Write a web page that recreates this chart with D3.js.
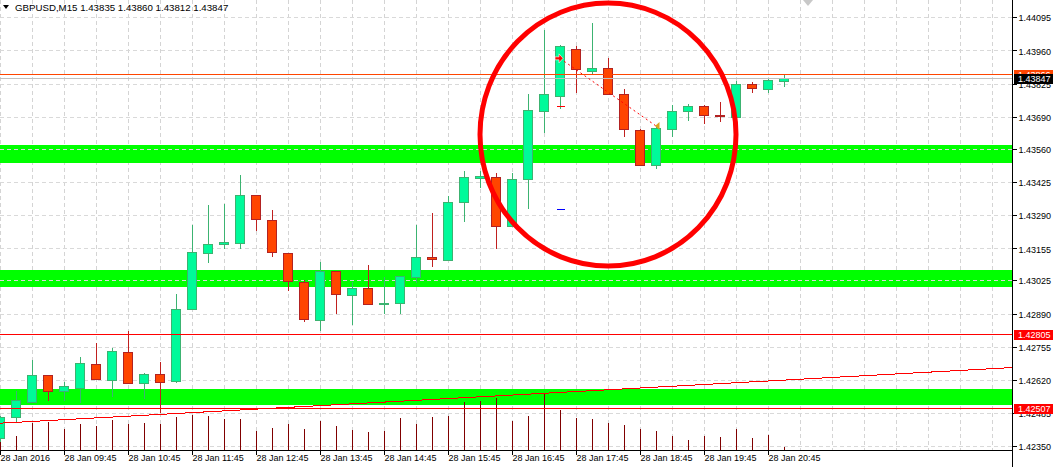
<!DOCTYPE html>
<html><head><meta charset="utf-8">
<script src="https://cdn.jsdelivr.net/npm/d3@7"></script>
<style>
html,body{margin:0;padding:0;background:#fff;overflow:hidden}
svg{display:block}
text{font-family:"Liberation Sans",Arial,sans-serif;font-size:9px}
</style></head><body>
<svg id="c" width="1056" height="467"></svg>
<script>
// ---- data ----
const symbolTitle = "GBPUSD,M15  1.43835 1.43860 1.43812 1.43847";
const times = ["08:45","09:00","09:15","09:30","09:45","10:00","10:15","10:30","10:45","11:00",
"11:15","11:30","11:45","12:00","12:15","12:30","12:45","13:00","13:15","13:30",
"13:45","14:00","14:15","14:30","14:45","15:00","15:15","15:30","15:45","16:00",
"16:15","16:30","16:45","17:00","17:15","17:30","17:45","18:00","18:15","18:30",
"18:45","19:00","19:15","19:30","19:45","20:00","20:15","20:30","20:45","21:00"];
const open = [1.42383,1.42468,1.42531,1.42639,1.42574,1.42588,1.42684,1.42621,1.42732,1.42606,
1.42644,1.42614,1.42907,1.43135,1.43172,1.43176,1.43371,1.43269,1.43135,1.43017,
1.42862,1.43062,1.42964,1.42993,1.42928,1.42932,1.43037,1.43119,1.43107,1.43343,
1.43440,1.43444,1.43245,1.43436,1.43713,1.43776,1.43965,1.43875,1.43888,1.43782,
1.43635,1.43493,1.43639,1.43713,1.43733,1.43696,1.43688,1.43822,1.43802,1.43835];
const high = [1.42473,1.42575,1.42701,1.42640,1.42612,1.42713,1.42771,1.42751,1.42819,1.42649,
1.42693,1.42968,1.43249,1.43330,1.43336,1.43454,1.43372,1.43311,1.43136,1.43026,
1.43100,1.43063,1.43017,1.43086,1.43037,1.43043,1.43249,1.43299,1.43368,1.43470,
1.43470,1.43460,1.43460,1.43783,1.44043,1.43982,1.43978,1.44071,1.43928,1.43802,
1.43639,1.43648,1.43737,1.43741,1.43737,1.43749,1.43835,1.43831,1.43847,1.43860];
const low = [1.42367,1.42450,1.42527,1.42535,1.42533,1.42525,1.42620,1.42552,1.42604,1.42544,
1.42485,1.42606,1.42905,1.43095,1.43151,1.43151,1.43227,1.43121,1.42983,1.42857,
1.42820,1.42889,1.42843,1.42926,1.42889,1.42889,1.43015,1.43081,1.43102,1.43261,
1.43399,1.43151,1.43240,1.43314,1.43623,1.43721,1.43786,1.43859,1.43780,1.43609,
1.43489,1.43477,1.43607,1.43672,1.43660,1.43668,1.43686,1.43786,1.43786,1.43812];
const close = [1.42468,1.42537,1.42640,1.42574,1.42594,1.42688,1.42623,1.42736,1.42606,1.42643,
1.42613,1.42907,1.43139,1.43172,1.43180,1.43371,1.43273,1.43139,1.43021,1.42867,
1.43062,1.42968,1.42995,1.42928,1.42932,1.43042,1.43119,1.43111,1.43343,1.43444,
1.43448,1.43245,1.43436,1.43717,1.43782,1.43978,1.43884,1.43888,1.43782,1.43639,
1.43493,1.43643,1.43713,1.43733,1.43696,1.43692,1.43822,1.43806,1.43839,1.43847];
const volume = [180,168,324,336,252,312,288,360,312,324,
312,396,420,412,372,372,232,268,316,256,
352,292,244,220,232,388,312,396,408,576,
588,628,348,408,680,480,384,372,328,304,
256,232,172,124,172,160,256,148,184,40];
const priceTicks = [1.44095,1.43960,1.43825,1.43690,1.43560,1.43425,1.43290,1.43155,1.43025,1.42890,1.42755,1.42620,1.42485,1.42350];
const priceTickLabels = ["1.44095","1.43960","1.43825","1.43690","1.43560","1.43425","1.43290","1.43155","1.43025","1.42890","1.42755","1.42620","1.42485","1.42350"];
const timeTickIdx = [0,4,8,12,16,20,24,28,32,36,40,44,48];
const timeTickLabels = ["28 Jan 2016","28 Jan 09:45","28 Jan 10:45","28 Jan 11:45","28 Jan 12:45","28 Jan 13:45","28 Jan 14:45","28 Jan 15:45","28 Jan 16:45","28 Jan 17:45","28 Jan 18:45","28 Jan 19:45","28 Jan 20:45"];
const zoneTop = [1.43576,1.43067,1.42583];
const zoneBottom = [1.43504,1.42996,1.42518];
const hLinePrices = [1.43866,1.42805,1.42507];
const hLineLabels = ["1.43866","1.42805","1.42507"];
const hLineColors = ["#ff4500","#ff0000","#ff0000"];
const bidPrice = 1.43847, bidLabel = "1.43847";
const trendBars = [0,63.2], trendPrices = [1.42444,1.42670];
const ellipseBars = [30,46], ellipsePrices = [1.44153,1.43083];
const tradeBars = [35,41], tradePrices = [1.43928,1.43653];
const markBar = 35, stopPrice = 1.43735, pendingPrice = 1.43314;

// ---- layout ----
const W = 1056, H = 467, plotR = 1012, plotB = 450;
const svg = d3.select("#c");
const x = d3.scaleLinear().domain([0,49]).range([0,784]);
const y = d3.scaleLinear().domain([1.42350,1.44095]).range([446.3,17.3]);
const v = d3.scaleLinear().domain([0,600]).range([plotB,plotB-50]);
const px = i => Math.round(x(i)) + 0.5;

svg.append("rect").attr("width",W).attr("height",H).attr("fill","#fff");

// vertical grid
const vg = d3.range(0,64,2).filter(i => x(i) < plotR);
svg.append("g").selectAll("line").data(vg).join("line")
  .attr("x1",d=>px(d)).attr("x2",d=>px(d)).attr("y1",0).attr("y2",plotB)
  .attr("stroke","#d4d4d4").attr("stroke-dasharray","4,3").attr("shape-rendering","crispEdges");

// zones
svg.append("g").selectAll("rect").data(zoneTop).join("rect")
  .attr("x",0).attr("width",plotR)
  .attr("y",(d,i)=>y(d)).attr("height",(d,i)=>y(zoneBottom[i])-y(d))
  .attr("fill","#00ff00").attr("shape-rendering","crispEdges");

// horizontal grid
svg.append("g").selectAll("line").data(priceTicks).join("line")
  .attr("x1",0).attr("x2",plotR)
  .attr("y1",d=>Math.round(y(d))+0.5).attr("y2",d=>Math.round(y(d))+0.5)
  .attr("stroke","#d9d9d9").attr("stroke-dasharray","4,3").attr("shape-rendering","crispEdges");

// volumes
svg.append("g").selectAll("line").data(volume).join("line")
  .attr("x1",(d,i)=>px(i)).attr("x2",(d,i)=>px(i))
  .attr("y1",plotB).attr("y2",d=>v(d))
  .attr("stroke","#800000").attr("stroke-width",1).attr("shape-rendering","crispEdges");

// candles
const idx = d3.range(times.length);
const cg = svg.append("g").attr("shape-rendering","crispEdges");
cg.selectAll("line").data(idx).join("line")
  .attr("x1",i=>px(i)).attr("x2",i=>px(i))
  .attr("y1",i=>y(high[i])).attr("y2",i=>y(low[i]))
  .attr("stroke",i=>close[i]>=open[i]?"#3cb371":"#c0201f");
cg.selectAll("rect").data(idx).join("rect")
  .attr("x",i=>Math.round(x(i))-4.5).attr("width",9)
  .attr("y",i=>Math.round(y(Math.max(open[i],close[i])))+0.5)
  .attr("height",i=>Math.max(1,Math.round(y(Math.min(open[i],close[i])))-Math.round(y(Math.max(open[i],close[i])))))
  .attr("fill",i=>close[i]>=open[i]?"#00fa9a":"#ff4500")
  .attr("stroke",i=>close[i]>=open[i]?"#3cb371":"#b22222");

// horizontal lines
svg.append("g").selectAll("line").data(hLinePrices).join("line")
  .attr("x1",0).attr("x2",plotR)
  .attr("y1",d=>Math.round(y(d))+0.5).attr("y2",d=>Math.round(y(d))+0.5)
  .attr("stroke",(d,i)=>hLineColors[i]).attr("shape-rendering","crispEdges");
svg.append("line").attr("x1",0).attr("x2",plotR)
  .attr("y1",Math.round(y(bidPrice))+0.5).attr("y2",Math.round(y(bidPrice))+0.5)
  .attr("stroke","#c0c0c0").attr("shape-rendering","crispEdges");

// trend line (extended through plot)
const slope = (trendPrices[1]-trendPrices[0])/(trendBars[1]-trendBars[0]);
const tx0 = x.invert(0), tx1 = x.invert(plotR);
svg.append("line")
  .attr("x1",0).attr("y1",y(trendPrices[0]+slope*(tx0-trendBars[0])))
  .attr("x2",plotR).attr("y2",y(trendPrices[0]+slope*(tx1-trendBars[0])))
  .attr("stroke","#ff0000").attr("stroke-width",1).attr("shape-rendering","crispEdges");

// trade line & arrows
svg.append("line")
  .attr("x1",x(tradeBars[0])).attr("y1",y(tradePrices[0]))
  .attr("x2",x(tradeBars[1])).attr("y2",y(tradePrices[1]))
  .attr("stroke","#ff0000").attr("stroke-dasharray","2,3");
const ax = x(tradeBars[0]), ay = y(tradePrices[0]);
svg.append("path")
  .attr("d",`M${ax-5},${ay-1.5}L${ax-1},${ay-1.5}L${ax-1},${ay-4.5}L${ax+3},${ay}L${ax-1},${ay+4.5}L${ax-1},${ay+1.5}L${ax-5},${ay+1.5}Z`)
  .attr("fill","#ff0000").attr("stroke","#fff").attr("stroke-width",0.6);
const bx = x(tradeBars[1]), by = y(tradePrices[1]);
svg.append("path")
  .attr("d",`M${bx+3.5},${by-4}L${bx+3.5},${by+4}L${bx-1},${by}Z`)
  .attr("fill","#daa520");
svg.append("line").attr("x1",px(markBar)-4).attr("x2",px(markBar)+4)
  .attr("y1",Math.round(y(stopPrice))+0.5).attr("y2",Math.round(y(stopPrice))+0.5)
  .attr("stroke","#ff0000").attr("shape-rendering","crispEdges");
svg.append("line").attr("x1",px(markBar)-4).attr("x2",px(markBar)+4)
  .attr("y1",Math.round(y(pendingPrice))+0.5).attr("y2",Math.round(y(pendingPrice))+0.5)
  .attr("stroke","#0000ff").attr("shape-rendering","crispEdges");

// ellipse
svg.append("ellipse")
  .attr("cx",(x(ellipseBars[0])+x(ellipseBars[1]))/2)
  .attr("cy",(y(ellipsePrices[0])+y(ellipsePrices[1]))/2)
  .attr("rx",(x(ellipseBars[1])-x(ellipseBars[0]))/2)
  .attr("ry",(y(ellipsePrices[1])-y(ellipsePrices[0]))/2)
  .attr("fill","none").attr("stroke","#ff0000").attr("stroke-width",5);

// white out area right of / below plot
svg.append("rect").attr("x",plotR+1).attr("y",0).attr("width",W-plotR).attr("height",H).attr("fill","#fff");
svg.append("rect").attr("x",0).attr("y",plotB+1).attr("width",W).attr("height",H-plotB).attr("fill","#fff");

// axes
const ya = d3.axisRight(y).tickValues(priceTicks).tickFormat((d,i)=>priceTickLabels[i]).tickSize(4).tickPadding(2);
const yg = svg.append("g").attr("transform",`translate(${plotR+0.5},0)`).call(ya);
yg.select(".domain").remove();
yg.selectAll("text").attr("dy","0.4em").attr("fill","#000");
yg.selectAll("line").attr("shape-rendering","crispEdges").attr("stroke","#000");
yg.attr("font-family",null).attr("font-size",null);

const xa = d3.axisBottom(x).tickValues(timeTickIdx).tickFormat((d,i)=>timeTickLabels[i]).tickSize(4).tickPadding(0);
const xg = svg.append("g").attr("transform",`translate(0.5,${plotB+0.5})`).call(xa);
xg.select(".domain").remove();
xg.selectAll(".tick").attr("transform",d=>`translate(${Math.round(x(d))},0)`);
xg.selectAll("text").attr("text-anchor","start").attr("x",0).attr("fill","#000");
xg.selectAll("line").attr("shape-rendering","crispEdges").attr("stroke","#000");
xg.attr("font-family",null).attr("font-size",null);

svg.append("line").attr("x1",0).attr("x2",plotR+1).attr("y1",plotB+0.5).attr("y2",plotB+0.5)
  .attr("stroke","#000").attr("shape-rendering","crispEdges");
svg.append("line").attr("x1",plotR+0.5).attr("x2",plotR+0.5).attr("y1",0).attr("y2",H)
  .attr("stroke","#000").attr("shape-rendering","crispEdges");

// price label boxes (drawn over the axis, as in the terminal)
function priceBox(p, label, fill){
  const yy = Math.round(y(p));
  svg.append("rect").attr("x",plotR+2).attr("y",yy-4.5).attr("width",39).attr("height",10)
    .attr("fill",fill).attr("shape-rendering","crispEdges");
  svg.append("text").attr("x",plotR+6).attr("y",yy+4).attr("fill","#fff").text(label);
}
priceBox(hLinePrices[0],hLineLabels[0],hLineColors[0]);
priceBox(bidPrice,bidLabel,"#000");
priceBox(hLinePrices[1],hLineLabels[1],hLineColors[1]);
priceBox(hLinePrices[2],hLineLabels[2],hLineColors[2]);

// header
svg.append("path").attr("d","M3,5L9,5L6,9Z").attr("fill","#000");
svg.append("text").attr("x",15).attr("y",11).attr("fill","#000").style("font-size","9.7px").text(symbolTitle);
// chart shift marker
svg.append("path").attr("d","M803,0L813,0L808,6Z").attr("fill","#c8c8c8");
</script>
</body></html>
